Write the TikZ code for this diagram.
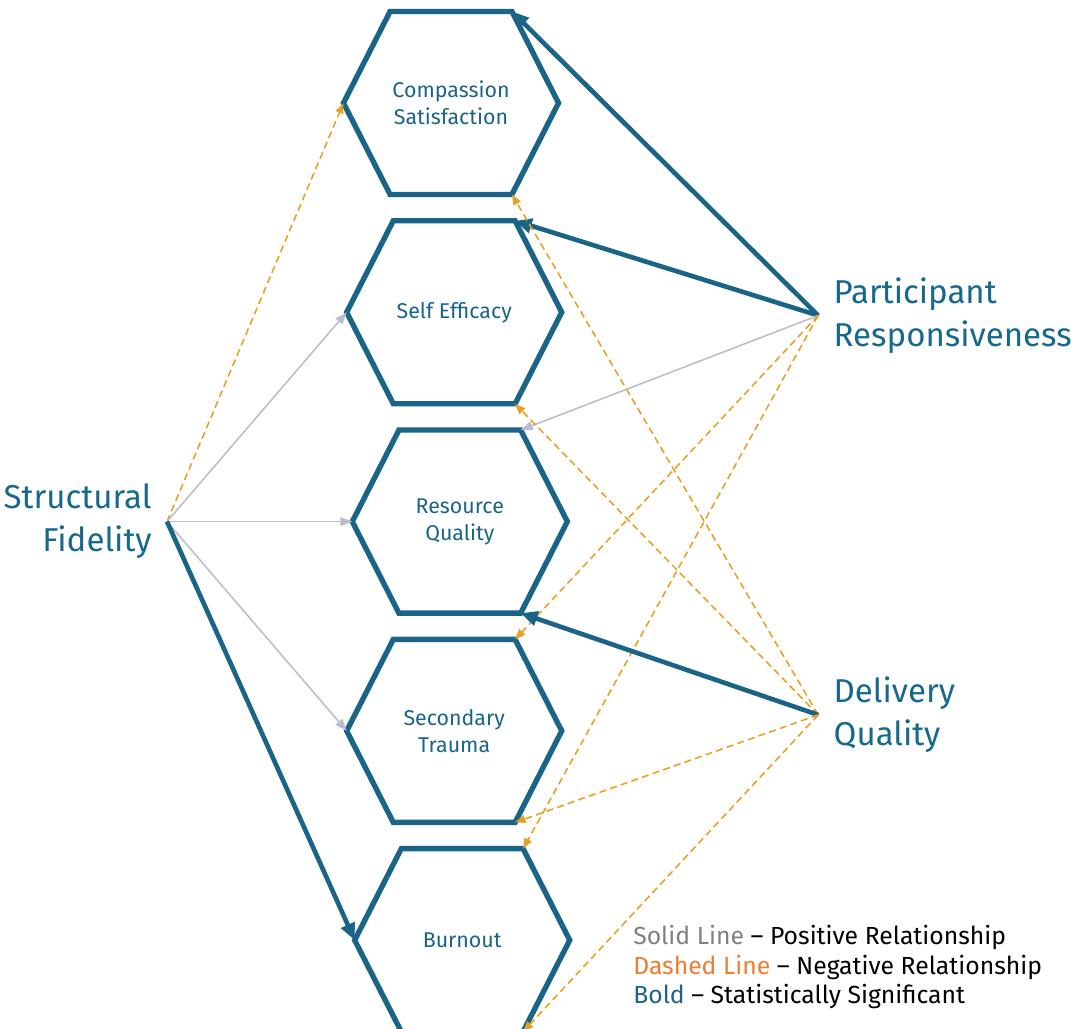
\documentclass[tikz,border=0pt]{standalone}
\usepackage{fontspec}
\setmainfont{Fira Sans}
\usetikzlibrary{shapes.symbols, arrows.meta, positioning}
\definecolor{hexblue}{RGB}{25,100,135}
\definecolor{lblblue}{RGB}{22,104,140}
\definecolor{negorange}{RGB}{230,160,35}
\definecolor{posgray}{RGB}{188,188,204}
\definecolor{keygray}{RGB}{128,128,128}
\definecolor{keyorange}{RGB}{237,125,49}

\begin{document}
\begin{tikzpicture}[x=0.025cm, y=-0.025cm,
  hexa/.style={signal, signal to=west and east, signal pointer angle=126, minimum width=5.375cm, minimum height=4.575cm, inner sep=0pt, outer sep=0pt, draw=hexblue, line width=3.8pt, text=hexblue, align=center, font=\fontsize{15.2}{19.2}\selectfont},
  factor/.style={text=lblblue, inner sep=0pt, inner xsep=0.38cm, font=\fontsize{23.5}{30.6}\selectfont},
  posline/.style={-{Triangle[length=0.3cm, width=0.22cm]}, draw=posgray, line width=1.1pt},
  negline/.style={-{Triangle[length=0.26cm, width=0.2cm]}, draw=negorange, line width=1.1pt, dash pattern=on 5pt off 3pt},
  sigline/.style={-{Triangle[length=0.42cm, width=0.36cm]}, draw=hexblue, line width=3.3pt}
]
\useasboundingbox (0,0) rectangle (1071,1029);

% outcome hexagons
\node[hexa] (cs) at (451,103) {Compassion\\Satisfaction};
\node[hexa, below=0.656cm of cs, xshift=0.08cm] (se) {Self Efficacy};
\node[hexa, below=0.656cm of se, xshift=0.14cm] (rq) {Resource\\Quality};
\node[hexa, below=0.656cm of rq, xshift=-0.14cm] (st) {Secondary\\Trauma};
\node[hexa, below=0.656cm of st, xshift=0.2cm] (bo) {Burnout};

% fidelity factors
\node[factor, align=right, left=4.63cm of rq] (sf) {Structural\\Fidelity};
\node[factor, align=left, right=6.41cm of se, yshift=-0.08cm] (pr) {Participant\\Responsiveness};
\node[factor, align=left, right=6.41cm of st, yshift=0.4cm] (dq) {Delivery\\Quality};

% structural fidelity
\draw[negline] (sf.east) -- (cs.west);
\draw[posline] (sf.east) -- (se.west);
\draw[posline] (sf.east) -- (rq.west);
\draw[posline] (sf.east) -- (st.west);
\draw[sigline] (sf.east) -- (bo.west);

% participant responsiveness
\draw[sigline] (pr.west) -- (cs.north east);
\draw[sigline] (pr.west) -- (se.north east);
\draw[posline] (pr.west) -- (rq.north east);
\draw[negline] (pr.west) -- (st.north east);
\draw[negline] (pr.west) -- (bo.north east);

% delivery quality
\draw[negline] (dq.west) -- (cs.south east);
\draw[negline] (dq.west) -- (se.south east);
\draw[sigline] (dq.west) -- (rq.south east);
\draw[negline] (dq.west) -- (st.south east);
\draw[negline] (dq.west) -- (bo.south east);

% legend
\node[anchor=west, inner sep=0pt, align=left, font=\fontsize{17.6}{21.3}\selectfont] (key) at (633,967)
  {\textcolor{keygray}{Solid Line} -- Positive Relationship\\
   \textcolor{keyorange}{Dashed Line} -- Negative Relationship\\
   \textcolor{hexblue}{Bold} -- Statistically Significant};
\end{tikzpicture}
\end{document}
